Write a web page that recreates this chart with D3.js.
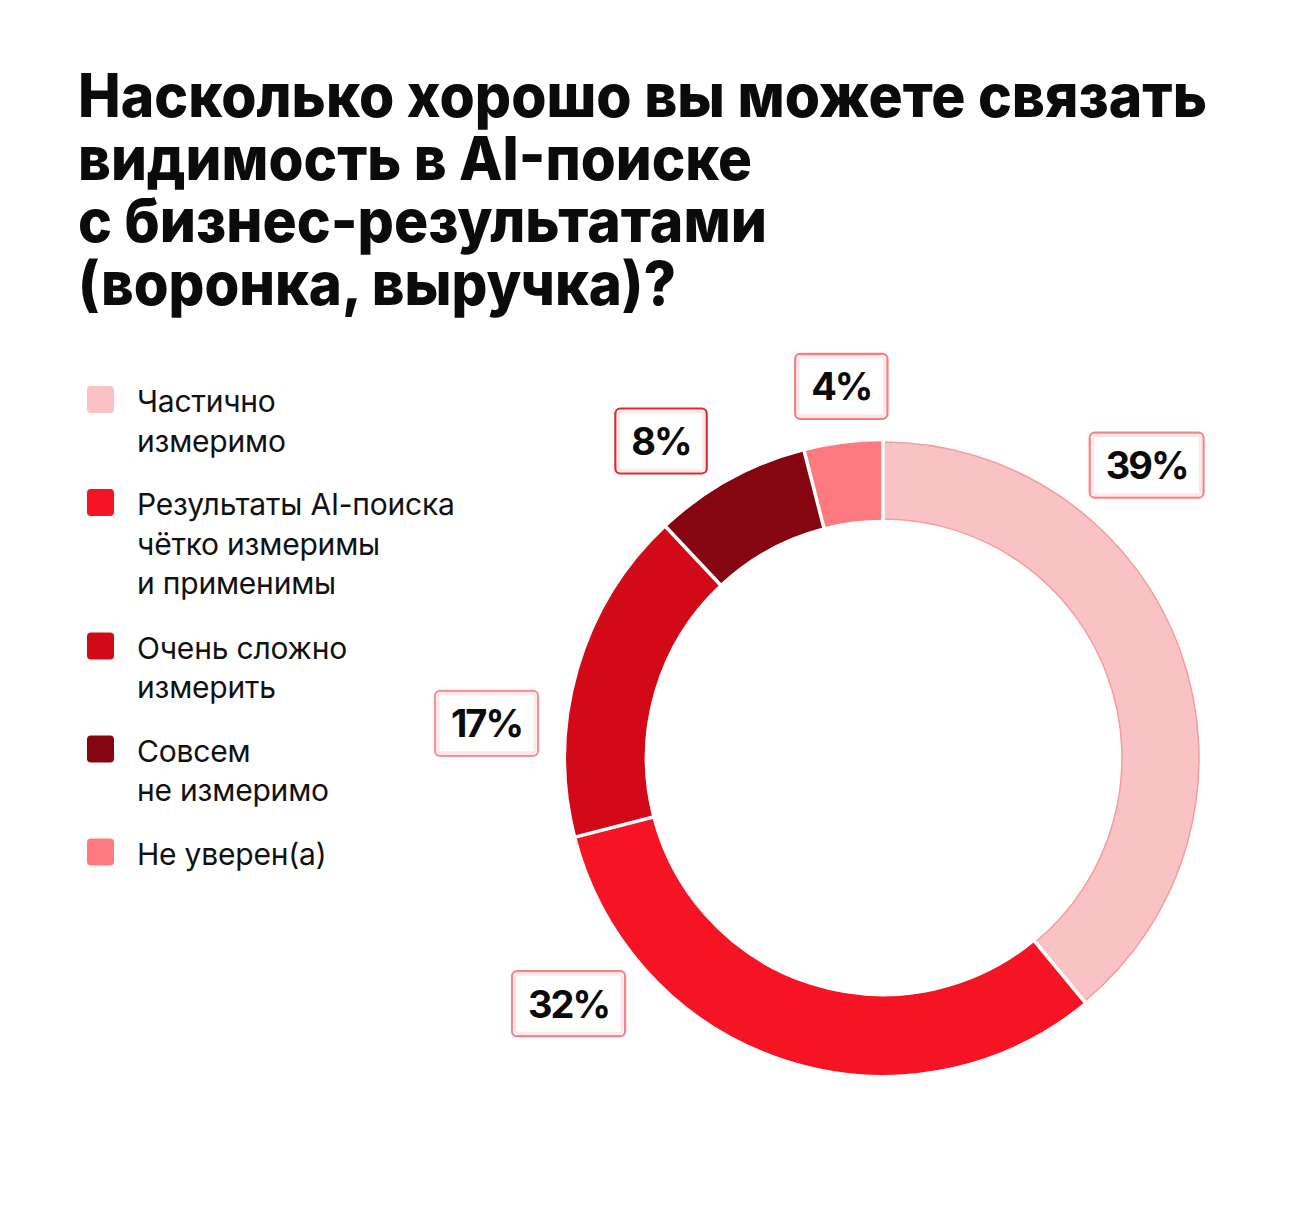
<!DOCTYPE html>
<html>
<head>
<meta charset="utf-8">
<script src="https://cdn.jsdelivr.net/npm/d3@7"></script>
<style>
  html, body { margin: 0; padding: 0; background: #fff; }
  svg { display: block; }
</style>
</head>
<body>
<svg id="chart" width="1290" height="1219"></svg>
<script>
// data
const titleLines = [
  'Насколько хорошо вы можете связать',
  'видимость в AI-поиске',
  'с бизнес-результатами',
  '(воронка, выручка)?'
]
const categories = [
  ['Частично', 'измеримо'],
  ['Результаты AI-поиска', 'чётко измеримы', 'и применимы'],
  ['Очень сложно', 'измерить'],
  ['Совсем', 'не измеримо'],
  ['Не уверен(а)']
]
const values = [39, 32, 17, 8, 4]
const colors = ['#f9c2c5', '#f41424', '#d20a17', '#850610', '#fd7a80']
const boxStrokes = ['#f5858a', '#f4868b', '#f5939a', '#e0262e', '#f27f85']
// label placement around the ring: angle (deg, clockwise from top), distance from centre
const labelAngles = [42, 232, 275, 325, 353.6]
const labelDist = [394, 399, 398, 387, 374]
// widths of the title lines in the reference, used to fit the font
const titleWidths = [1129, 674, 689, 598]

const svg = d3.select('#chart')
const font = 'Inter, "Noto Sans", sans-serif'

// title
const title = svg.append('g').attr('class', 'title')
titleLines.forEach((line, i) => {
  title.append('text')
    .attr('x', 78)
    .attr('y', 117 + i * 62.5)
    .attr('font-family', font)
    .attr('font-weight', 800)
    .attr('font-size', 60)
    .attr('fill', '#0b0b0b')
    .attr('textLength', titleWidths[i])
    .attr('lengthAdjust', 'spacingAndGlyphs')
    .text(line)
})

// legend
const legend = svg.append('g').attr('class', 'legend')
let legendY = 386
categories.forEach((lines, i) => {
  const g = legend.append('g').attr('transform', `translate(87, ${legendY})`)
  g.append('rect')
    .attr('width', 27)
    .attr('height', 27)
    .attr('rx', 4)
    .attr('fill', colors[i])
  lines.forEach((t, j) => {
    g.append('text')
      .attr('x', 50)
      .attr('y', 26 + j * 39.5)
      .attr('font-family', font)
      .attr('font-size', 30)
      .attr('letter-spacing', -0.2)
      .attr('fill', '#111')
      .text(t)
  })
  legendY += lines.length * 40.5 + 22
})

// donut
const cx = 883, cy = 758
const outerR = 316, innerR = 239
const pie = d3.pie().sort(null).value(d => d)
const arcs = pie(values)
const arc = d3.arc().innerRadius(innerR).outerRadius(outerR)

const donut = svg.append('g').attr('transform', `translate(${cx}, ${cy})`)
donut.selectAll('path.slice')
  .data(arcs)
  .join('path')
  .attr('class', 'slice')
  .attr('d', arc)
  .attr('fill', (d, i) => colors[i])
  .attr('stroke', (d, i) => i === 0 ? '#f59ca0' : colors[i])
  .attr('stroke-width', 1.5)

// white separators between slices
donut.selectAll('line.sep')
  .data(arcs)
  .join('line')
  .attr('class', 'sep')
  .attr('x1', d => Math.sin(d.startAngle) * (innerR - 2))
  .attr('y1', d => -Math.cos(d.startAngle) * (innerR - 2))
  .attr('x2', d => Math.sin(d.startAngle) * (outerR + 2))
  .attr('y2', d => -Math.cos(d.startAngle) * (outerR + 2))
  .attr('stroke', '#fff')
  .attr('stroke-width', 3.5)

// value labels
const labels = donut.selectAll('g.label')
  .data(arcs)
  .join('g')
  .attr('class', 'label')
  .attr('transform', (d, i) => {
    const a = labelAngles[i] * Math.PI / 180
    return `translate(${Math.sin(a) * labelDist[i]}, ${-Math.cos(a) * labelDist[i]})`
  })

labels.append('text')
  .attr('text-anchor', 'middle')
  .attr('y', 14)
  .attr('font-family', font)
  .attr('font-weight', 700)
  .attr('font-size', 38)
  .attr('letter-spacing', -2)
  .attr('fill', '#0b0b0b')
  .text(d => d.data + '%')

labels.each(function (d, i) {
  const g = d3.select(this)
  const w = g.select('text').node().getComputedTextLength() + 32
  const h = 65
  g.insert('rect', 'text')
    .attr('x', -w / 2)
    .attr('y', -h / 2)
    .attr('width', w)
    .attr('height', h)
    .attr('rx', 5)
    .attr('fill', '#fff')
    .attr('stroke', boxStrokes[i])
    .attr('stroke-width', 2.2)
  g.insert('rect', 'text')
    .attr('x', -w / 2 + 3)
    .attr('y', -h / 2 + 3)
    .attr('width', w - 6)
    .attr('height', h - 6)
    .attr('rx', 3)
    .attr('fill', 'none')
    .attr('stroke', '#fde8e9')
    .attr('stroke-width', 3)
})
</script>
</body>
</html>
